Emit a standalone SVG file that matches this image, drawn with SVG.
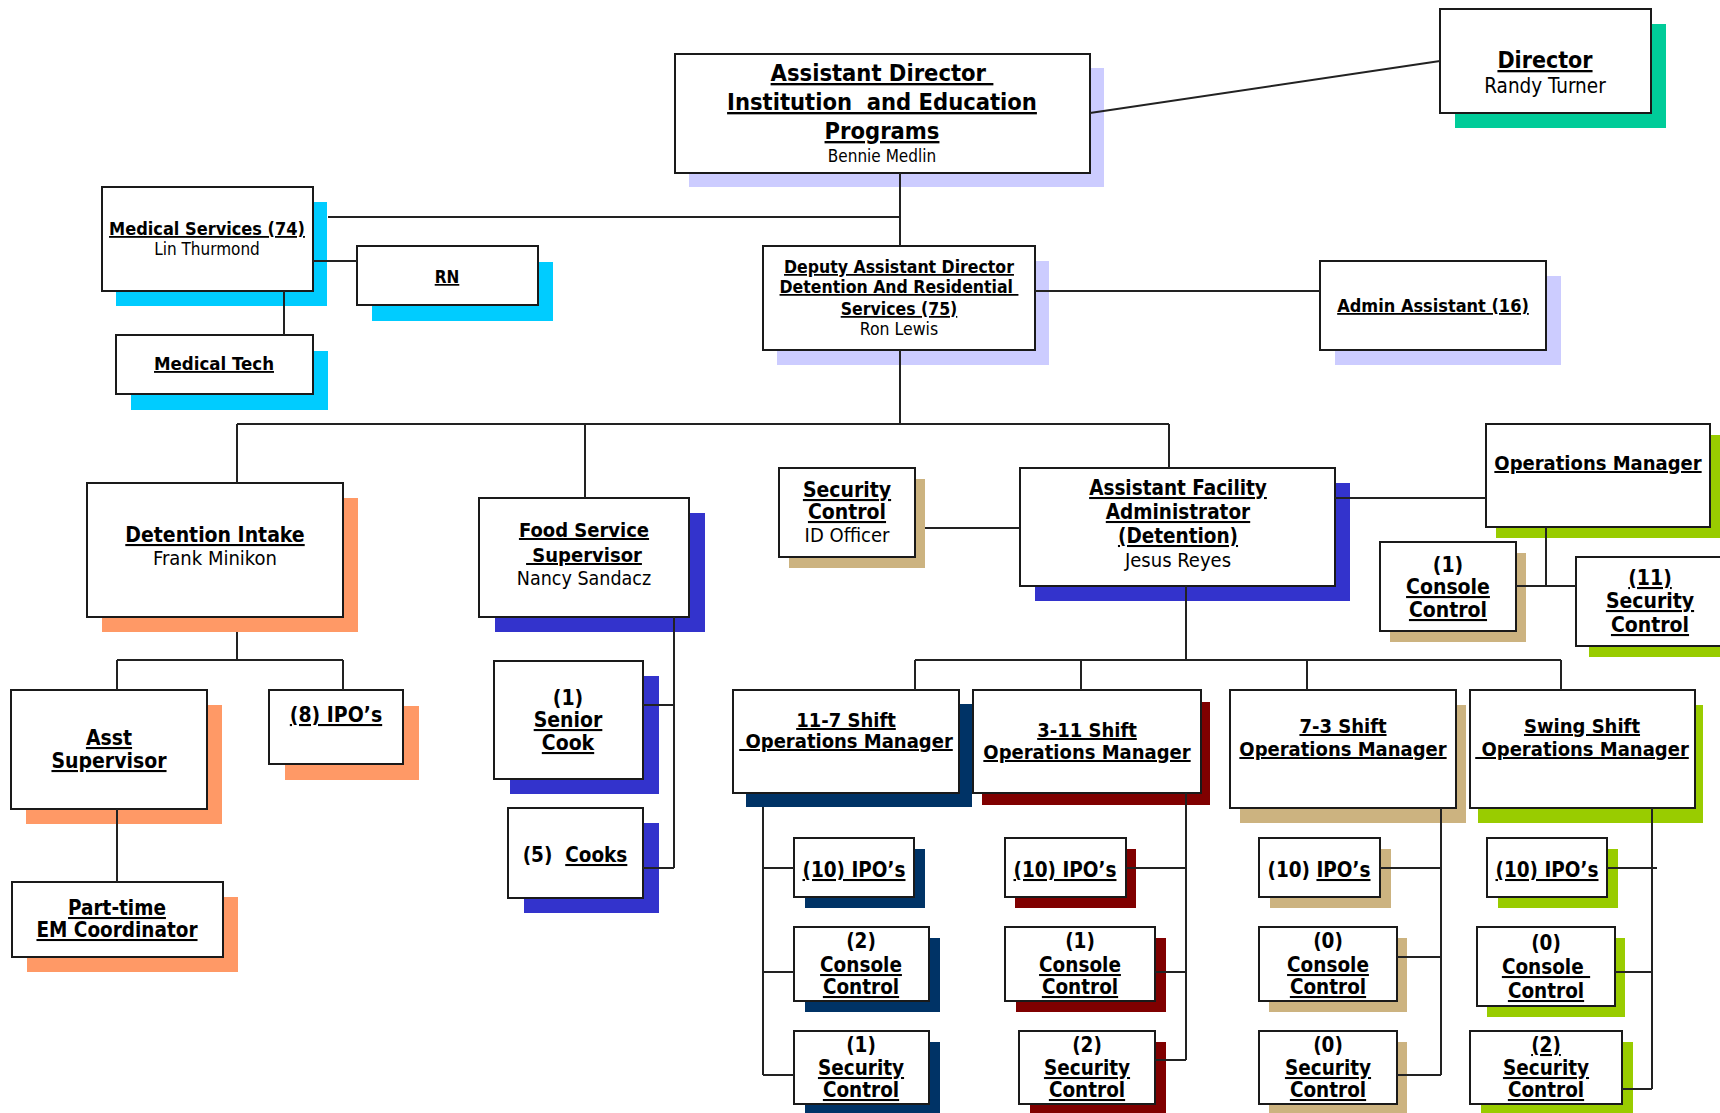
<svg xmlns="http://www.w3.org/2000/svg" width="1720" height="1113" viewBox="0 0 1720 1113">
<style>
.box{fill:#fff;stroke:#1a1a1a;stroke-width:2}
.c{fill:none;stroke:#222;stroke-width:2}
text{font-family:"DejaVu Sans Condensed","DejaVu Sans",sans-serif;text-anchor:middle;fill:#000;font-weight:bold;text-decoration:underline;white-space:pre}
.n{font-weight:normal;text-decoration:none}
.nu{text-decoration:none}
.u{text-decoration:underline}
.lav{fill:#ccccff}.cy{fill:#00ccff}.gr{fill:#00cc99}.or{fill:#ff9966}.bl{fill:#3333cc}.tn{fill:#ccb380}.yg{fill:#99cc00}.nv{fill:#003366}.rd{fill:#800000}
</style>
<g id="nodes">
<g id="director"><rect class="gr" x="1455" y="24" width="211" height="104"/><rect class="box" x="1440" y="9" width="211" height="104"/><text x="1545" y="68" font-size="23">Director</text><text class="n" x="1545" y="93" font-size="20.5">Randy Turner</text></g>
<g id="asstdir"><rect class="lav" x="689" y="68" width="415" height="119"/><rect class="box" x="675" y="54" width="415" height="119"/><text x="882" y="81" font-size="23.5">Assistant Director </text><text x="882" y="110" font-size="23.5">Institution  and Education</text><text x="882" y="139" font-size="23.5">Programs</text><text class="n" x="882" y="162" font-size="17">Bennie Medlin</text></g>
<g id="medical"><rect class="cy" x="116" y="202" width="211" height="104"/><rect class="box" x="102" y="187" width="211" height="104"/><text x="207" y="235" font-size="18">Medical Services (74)</text><text class="n" x="207" y="255" font-size="17">Lin Thurmond</text></g>
<g id="rn"><rect class="cy" x="372" y="262" width="181" height="59"/><rect class="box" x="357" y="246" width="181" height="59"/><text x="447" y="283" font-size="17">RN</text></g>
<g id="medtech"><rect class="cy" x="131" y="351" width="197" height="59"/><rect class="box" x="116" y="335" width="197" height="59"/><text x="214" y="370" font-size="18.5">Medical Tech</text></g>
<g id="deputy"><rect class="lav" x="777" y="261" width="272" height="104"/><rect class="box" x="763" y="246" width="272" height="104"/><text x="899" y="273" font-size="17.5">Deputy Assistant Director</text><text x="899" y="293" font-size="17.5">Detention And Residential </text><text x="899" y="315" font-size="17.5">Services (75)</text><text class="n" x="899" y="335" font-size="17.5">Ron Lewis</text></g>
<g id="admin"><rect class="lav" x="1335" y="276" width="226" height="89"/><rect class="box" x="1320" y="261" width="226" height="89"/><text x="1433" y="312" font-size="18">Admin Assistant (16)</text></g>
<g id="detention"><rect class="or" x="102" y="498" width="256" height="134"/><rect class="box" x="87" y="483" width="256" height="134"/><text x="215" y="542" font-size="21">Detention Intake</text><text class="n" x="215" y="565" font-size="20">Frank Minikon</text></g>
<g id="food"><rect class="bl" x="495" y="513" width="210" height="119"/><rect class="box" x="479" y="498" width="210" height="119"/><text x="584" y="537" font-size="20">Food Service</text><text x="584" y="562" font-size="20"> Supervisor</text><text class="n" x="584" y="585" font-size="19.5">Nancy Sandacz</text></g>
<g id="seccontrol"><rect class="tn" x="789" y="479" width="136" height="89"/><rect class="box" x="779" y="468" width="136" height="89"/><text x="847" y="497" font-size="21">Security</text><text x="847" y="519" font-size="21">Control</text><text class="n" x="847" y="542" font-size="20">ID Officer</text></g>
<g id="afa"><rect class="bl" x="1035" y="483" width="315" height="118"/><rect class="box" x="1020" y="468" width="315" height="118"/><text x="1178" y="495" font-size="20.5">Assistant Facility</text><text x="1178" y="519" font-size="20.5">Administrator</text><text x="1178" y="543" font-size="20.5">(Detention)</text><text class="n" x="1178" y="567" font-size="20">Jesus Reyes</text></g>
<g id="opsmgr"><rect class="yg" x="1496" y="435" width="224" height="103"/><rect class="box" x="1486" y="424" width="224" height="103"/><text x="1598" y="470" font-size="20">Operations Manager</text></g>
<g id="console1"><rect class="tn" x="1390" y="553" width="136" height="89"/><rect class="box" x="1380" y="542" width="136" height="89"/><text class="nu" x="1448" y="572" font-size="21">(1)</text><text x="1448" y="594" font-size="21">Console</text><text x="1448" y="617" font-size="21">Control</text></g>
<g id="sec11"><rect class="yg" x="1589" y="568" width="148" height="89"/><rect class="box" x="1576" y="557" width="148" height="89"/><text x="1650" y="585" font-size="21">(11)</text><text x="1650" y="608" font-size="21">Security</text><text x="1650" y="632" font-size="21">Control</text></g>
<g id="asstsup"><rect class="or" x="26" y="705" width="196" height="119"/><rect class="box" x="11" y="690" width="196" height="119"/><text x="109" y="745" font-size="21">Asst</text><text x="109" y="768" font-size="21">Supervisor</text></g>
<g id="ipo8"><rect class="or" x="285" y="706" width="134" height="74"/><rect class="box" x="269" y="690" width="134" height="74"/><text x="336" y="722" font-size="21">(8) IPO’s</text></g>
<g id="parttime"><rect class="or" x="27" y="897" width="211" height="75"/><rect class="box" x="12" y="882" width="211" height="75"/><text x="117" y="915" font-size="20.5">Part-time</text><text x="117" y="937" font-size="20.5">EM Coordinator</text></g>
<g id="seniorcook"><rect class="bl" x="510" y="676" width="149" height="118"/><rect class="box" x="494" y="661" width="149" height="118"/><text class="nu" x="568" y="705" font-size="21">(1)</text><text x="568" y="727" font-size="21">Senior</text><text x="568" y="750" font-size="21">Cook</text></g>
<g id="cooks"><rect class="bl" x="524" y="823" width="135" height="90"/><rect class="box" x="508" y="808" width="135" height="90"/><text class="nu" x="575" y="862" font-size="20.5">(5)  <tspan class="u">Cooks</tspan></text></g>
<g id="shift117"><rect class="nv" x="746" y="704" width="226" height="103"/><rect class="box" x="733" y="690" width="226" height="103"/><text x="846" y="727" font-size="20">11-7 Shift</text><text x="846" y="748" font-size="20"> Operations Manager</text></g>
<g id="shift311"><rect class="rd" x="982" y="702" width="228" height="103"/><rect class="box" x="973" y="690" width="228" height="103"/><text x="1087" y="737" font-size="20">3-11 Shift</text><text x="1087" y="759" font-size="20">Operations Manager</text></g>
<g id="shift73"><rect class="tn" x="1240" y="705" width="226" height="118"/><rect class="box" x="1230" y="690" width="226" height="118"/><text x="1343" y="733" font-size="20">7-3 Shift</text><text x="1343" y="756" font-size="20">Operations Manager</text></g>
<g id="swing"><rect class="yg" x="1478" y="705" width="225" height="118"/><rect class="box" x="1470" y="690" width="225" height="118"/><text x="1582" y="733" font-size="20">Swing Shift</text><text x="1582" y="756" font-size="20"> Operations Manager</text></g>
<g id="ipo117"><rect class="nv" x="805" y="849" width="120" height="59"/><rect class="box" x="794" y="838" width="120" height="59"/><text x="854" y="877" font-size="20.5">(10) IPO’s</text></g>
<g id="con117"><rect class="nv" x="805" y="938" width="135" height="74"/><rect class="box" x="794" y="927" width="135" height="74"/><text class="nu" x="861" y="948" font-size="20.5">(2)</text><text x="861" y="972" font-size="20.5">Console</text><text x="861" y="994" font-size="20.5">Control</text></g>
<g id="sec117"><rect class="nv" x="805" y="1042" width="135" height="73"/><rect class="box" x="794" y="1031" width="135" height="73"/><text class="nu" x="861" y="1052" font-size="20.5">(1)</text><text x="861" y="1075" font-size="20.5">Security</text><text x="861" y="1097" font-size="20.5">Control</text></g>
<g id="ipo311"><rect class="rd" x="1015" y="849" width="121" height="59"/><rect class="box" x="1005" y="838" width="121" height="59"/><text x="1065" y="877" font-size="20.5">(10) IPO’s</text></g>
<g id="con311"><rect class="rd" x="1016" y="938" width="150" height="74"/><rect class="box" x="1005" y="927" width="150" height="74"/><text class="nu" x="1080" y="948" font-size="20.5">(1)</text><text x="1080" y="972" font-size="20.5">Console</text><text x="1080" y="994" font-size="20.5">Control</text></g>
<g id="sec311"><rect class="rd" x="1030" y="1042" width="136" height="73"/><rect class="box" x="1019" y="1031" width="136" height="73"/><text class="nu" x="1087" y="1052" font-size="20.5">(2)</text><text x="1087" y="1075" font-size="20.5">Security</text><text x="1087" y="1097" font-size="20.5">Control</text></g>
<g id="ipo73"><rect class="tn" x="1270" y="849" width="121" height="59"/><rect class="box" x="1259" y="838" width="121" height="59"/><text class="nu" x="1319" y="877" font-size="20.5">(10) <tspan class="u">IPO’s</tspan></text></g>
<g id="con73"><rect class="tn" x="1269" y="938" width="138" height="74"/><rect class="box" x="1259" y="927" width="138" height="74"/><text class="nu" x="1328" y="948" font-size="20.5">(0)</text><text x="1328" y="972" font-size="20.5">Console</text><text x="1328" y="994" font-size="20.5">Control</text></g>
<g id="sec73"><rect class="tn" x="1269" y="1042" width="138" height="73"/><rect class="box" x="1259" y="1031" width="138" height="73"/><text class="nu" x="1328" y="1052" font-size="20.5">(0)</text><text x="1328" y="1075" font-size="20.5">Security</text><text x="1328" y="1097" font-size="20.5">Control</text></g>
<g id="iposw"><rect class="yg" x="1498" y="849" width="120" height="59"/><rect class="box" x="1487" y="838" width="120" height="59"/><text x="1547" y="877" font-size="20.5">(10) IPO’s</text></g>
<g id="consw"><rect class="yg" x="1487" y="938" width="138" height="79"/><rect class="box" x="1477" y="927" width="138" height="79"/><text class="nu" x="1546" y="950" font-size="20.5">(0)</text><text x="1546" y="974" font-size="20.5">Console </text><text x="1546" y="998" font-size="20.5">Control</text></g>
<g id="secsw"><rect class="yg" x="1481" y="1042" width="152" height="73"/><rect class="box" x="1470" y="1031" width="152" height="73"/><text x="1546" y="1052" font-size="20.5">(2)</text><text x="1546" y="1075" font-size="20.5">Security</text><text x="1546" y="1097" font-size="20.5">Control</text></g>
</g>
<g id="connectors">
<path class="c" d="M1090 113L1440 61"/>
<path class="c" d="M900 173V246M328 217H900M313 261H357M284 291V335M1035 291H1320"/>
<path class="c" d="M900 350V424M237 424H1169M237 424V483M585 424V498M1169 424V468"/>
<path class="c" d="M925 528H1020M1335 498H1486M1546 527V586M1516 586H1576"/>
<path class="c" d="M237 632V660M117 660H343M117 660V690M343 660V690M117 809V882"/>
<path class="c" d="M674 617V868M643 705H674M643 868H674"/>
<path class="c" d="M1186 586V660M915 660H1561M915 660V690M1081 660V690M1307 660V690M1561 660V690"/>
<path class="c" d="M763 807V1075M763 868H794M763 972H794M763 1075H794"/>
<path class="c" d="M1186 793V1060M1126 868H1186M1155 972H1186M1155 1060H1186"/>
<path class="c" d="M1441 808V1075M1380 868H1441M1397 957H1441M1397 1075H1441"/>
<path class="c" d="M1652 808V1089M1607 868H1657M1615 972H1652M1622 1089H1652"/>
</g>
</svg>
